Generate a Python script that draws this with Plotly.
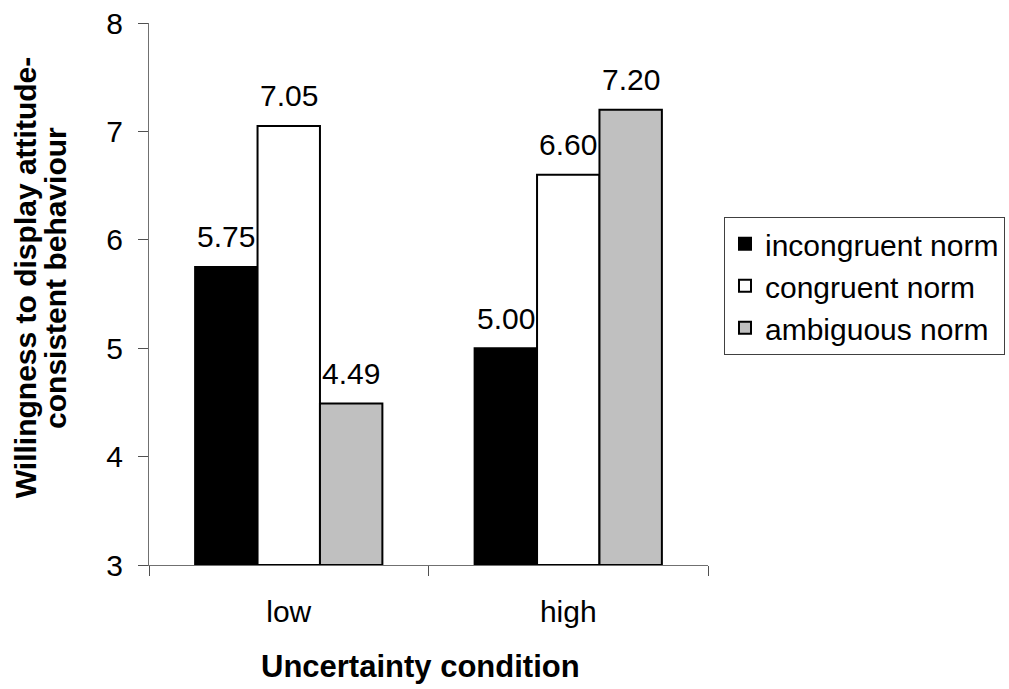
import plotly.graph_objects as go

# Mean willingness scores by uncertainty condition and norm type
conditions = ["low", "high"]
norm_names = ["incongruent norm", "congruent norm", "ambiguous norm"]
incongruent = [5.75, 5.00]
congruent = [7.05, 6.60]
ambiguous = [4.49, 7.20]

series_values = [incongruent, congruent, ambiguous]
fill_colors = ["#000000", "#FFFFFF", "#C0C0C0"]

AXIS_FLOOR = 3
FONT = "Liberation Sans, Arial, sans-serif"
FS = 30
TITLE_FS = 31
YTITLE_FS = 30

W, H = 1009, 689
M_L, M_R, M_T, M_B = 149, 301, 23, 124
BARGAP = 0.33

fig = go.Figure()
for name, vals, col in zip(norm_names, series_values, fill_colors):
    fig.add_trace(go.Bar(
        name=name,
        x=conditions,
        y=[v - AXIS_FLOOR for v in vals],
        base=AXIS_FLOOR,
        marker=dict(color=col, line=dict(color="#000000", width=2)),
    ))

# value labels above each bar, offset within the category group
plot_w = W - M_L - M_R
bar_w = plot_w / len(conditions) * (1 - BARGAP) / len(series_values)
n = len(series_values)
for i, vals in enumerate(series_values):
    shift = (i - (n - 1) / 2) * bar_w
    for cond, v in zip(conditions, vals):
        fig.add_annotation(
            x=cond, y=v, xref="x", yref="y",
            text=f"{v:.2f}", showarrow=False,
            xanchor="center", yanchor="middle",
            xshift=shift, yshift=30,
            font=dict(family=FONT, size=FS, color="#000000"),
        )

fig.update_layout(
    width=W,
    height=H,
    paper_bgcolor="#FFFFFF",
    plot_bgcolor="#FFFFFF",
    barmode="group",
    bargap=BARGAP,
    bargroupgap=0,
    margin=dict(l=M_L, r=M_R, t=M_T, b=M_B, autoexpand=False),
    font=dict(family=FONT, size=FS, color="#000000"),
    showlegend=True,
    legend=dict(
        x=1.0286, y=0.515, xanchor="left", yanchor="middle",
        bordercolor="#404040", borderwidth=1,
        bgcolor="#FFFFFF",
        font=dict(family=FONT, size=FS, color="#000000"),
        tracegroupgap=0,
    ),
    xaxis=dict(
        type="category",
        showgrid=False,
        zeroline=False,
        showline=True,
        linecolor="#707070",
        linewidth=1,
        ticks="outside",
        tickson="boundaries",
        ticklen=10,
        tickcolor="#505050",
        ticklabelstandoff=20,
        tickfont=dict(family=FONT, size=FS),
    ),
    yaxis=dict(
        range=[3, 8],
        dtick=1,
        showgrid=False,
        zeroline=False,
        showline=True,
        linecolor="#707070",
        linewidth=1,
        ticks="outside",
        ticklen=10,
        tickcolor="#505050",
        ticklabelstandoff=9,
        tickfont=dict(family=FONT, size=FS),
    ),
)

# x-axis title
fig.add_annotation(
    text="Uncertainty condition",
    xref="paper", yref="paper", x=0.4857, y=-0.188,
    xanchor="center", yanchor="middle", showarrow=False,
    font=dict(family=FONT, size=TITLE_FS, weight="bold", color="#000000"),
)

# Two-line rotated y-axis title
for text, xpos in [("Willingness to display attitude-", -0.221),
                   ("consistent behaviour", -0.166)]:
    fig.add_annotation(
        text=text, textangle=-90,
        xref="paper", yref="paper", x=xpos, y=0.53,
        xanchor="center", yanchor="middle",
        showarrow=False,
        font=dict(family=FONT, size=YTITLE_FS, weight="bold", color="#000000"),
    )

fig.write_html("out.html")
